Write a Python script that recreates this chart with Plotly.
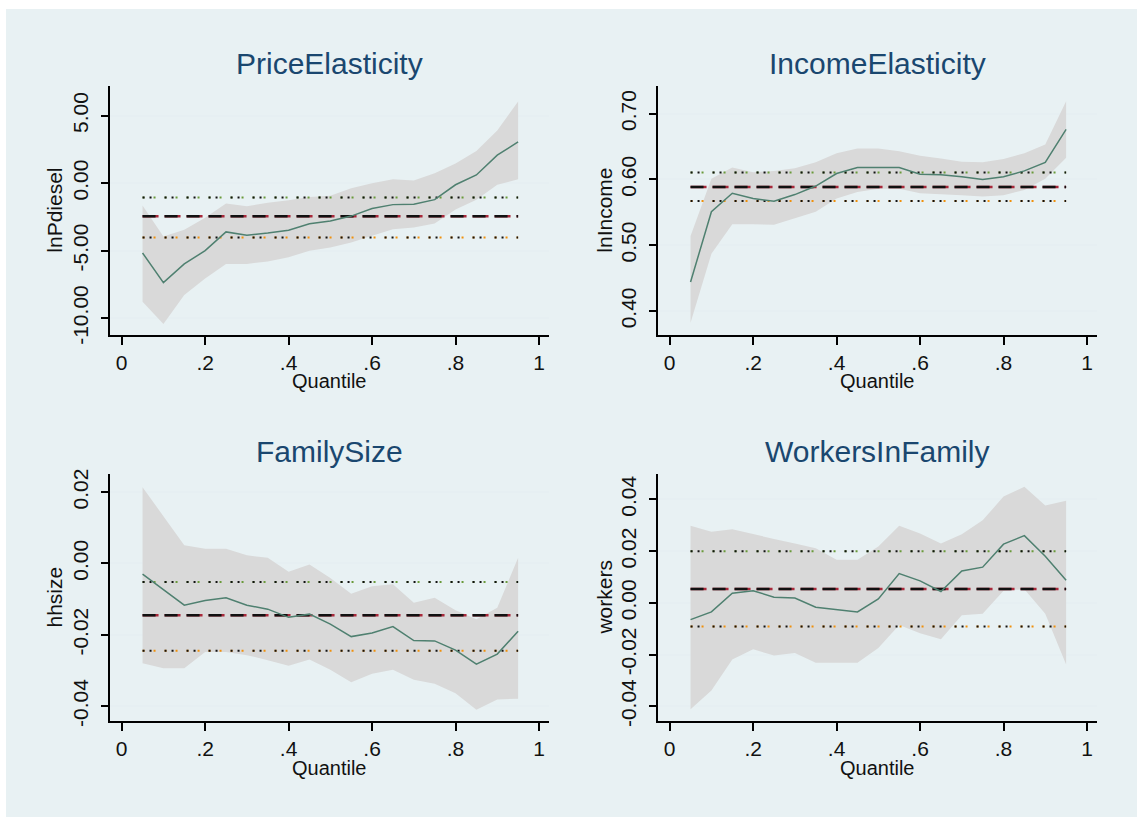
import plotly.graph_objects as go

# ---------------- data ----------------
quantiles = [0.05, 0.10, 0.15, 0.20, 0.25, 0.30, 0.35, 0.40, 0.45, 0.50,
             0.55, 0.60, 0.65, 0.70, 0.75, 0.80, 0.85, 0.90, 0.95]

titles = ["PriceElasticity", "IncomeElasticity", "FamilySize", "WorkersInFamily"]
ylabels = ["lnPdiesel", "lnIncome", "hhsize", "workers"]

price_coef = [-5.17, -7.37, -5.98, -5.00, -3.61, -3.85, -3.70, -3.49, -3.00, -2.80,
              -2.44, -1.88, -1.59, -1.56, -1.22, -0.12, 0.61, 2.07, 3.05]
price_hi = [-1.66, -3.95, -3.46, -2.56, -1.51, -1.71, -1.46, -1.27, -1.02, -0.93,
            -0.37, 0.00, 0.29, 0.20, 0.73, 1.46, 2.39, 3.90, 6.05]
price_lo = [-8.78, -10.44, -8.29, -7.07, -5.98, -5.98, -5.80, -5.49, -5.00, -4.76,
            -4.39, -3.90, -3.41, -3.29, -2.98, -1.95, -1.22, -0.12, 0.29]
price_ols = [-2.46, -1.07, -4.02]  # coef, upper, lower

income_coef = [0.444, 0.551, 0.579, 0.571, 0.567, 0.577, 0.590, 0.609, 0.618, 0.618,
               0.618, 0.608, 0.607, 0.604, 0.600, 0.604, 0.613, 0.626, 0.676]
income_hi = [0.514, 0.601, 0.618, 0.611, 0.613, 0.617, 0.626, 0.640, 0.647, 0.647,
             0.643, 0.636, 0.632, 0.627, 0.626, 0.631, 0.640, 0.653, 0.719]
income_lo = [0.382, 0.487, 0.532, 0.532, 0.531, 0.541, 0.551, 0.571, 0.581, 0.586,
             0.586, 0.579, 0.577, 0.576, 0.574, 0.576, 0.584, 0.601, 0.633]
income_ols = [0.5886, 0.6104, 0.5672]

hhsize_coef = [-0.0030, -0.0073, -0.0117, -0.0104, -0.0096, -0.0117, -0.0128, -0.0151, -0.0142, -0.0170,
               -0.0205, -0.0195, -0.0177, -0.0216, -0.0217, -0.0243, -0.0282, -0.0254, -0.0190]
hhsize_hi = [0.0214, 0.0133, 0.0051, 0.0041, 0.0041, 0.0023, 0.0016, -0.0023, -0.0003, -0.0041,
             -0.0085, -0.0064, -0.0058, -0.0110, -0.0096, -0.0131, -0.0156, -0.0124, 0.0016]
hhsize_lo = [-0.0280, -0.0294, -0.0294, -0.0248, -0.0248, -0.0257, -0.0271, -0.0287, -0.0269, -0.0298,
             -0.0333, -0.0309, -0.0298, -0.0326, -0.0337, -0.0364, -0.0410, -0.0381, -0.0379]
hhsize_ols = [-0.0145, -0.0052, -0.0245]

workers_coef = [-0.0065, -0.0035, 0.0037, 0.0047, 0.0022, 0.0019, -0.0017, -0.0027, -0.0035, 0.0015,
                0.0113, 0.0085, 0.0044, 0.0123, 0.0138, 0.0227, 0.0260, 0.0180, 0.0087]
workers_hi = [0.0298, 0.0275, 0.0285, 0.0265, 0.0247, 0.0230, 0.0211, 0.0167, 0.0167, 0.0218,
              0.0298, 0.0268, 0.0230, 0.0265, 0.0319, 0.0411, 0.0449, 0.0376, 0.0395]
workers_lo = [-0.0411, -0.0339, -0.0219, -0.0179, -0.0204, -0.0194, -0.0232, -0.0232, -0.0232, -0.0175,
              -0.0086, -0.0118, -0.0141, -0.0048, -0.0042, 0.0047, 0.0053, -0.0042, -0.0238]
workers_ols = [0.0054, 0.0200, -0.0091]

x_tickvals = [0, 0.2, 0.4, 0.6, 0.8, 1.0]
x_ticktext = ["0", ".2", ".4", ".6", ".8", "1"]

y_tickvals = [
    [-10, -5, 0, 5],
    [0.4, 0.5, 0.6, 0.7],
    [-0.04, -0.02, 0.0, 0.02],
    [-0.04, -0.02, 0.0, 0.02, 0.04],
]
y_ticktext = [
    ["-10.00", "-5.00", "0.00", "5.00"],
    ["0.40", "0.50", "0.60", "0.70"],
    ["-0.04", "-0.02", "0.00", "0.02"],
    ["-0.04", "-0.02", "0.00", "0.02", "0.04"],
]

y_ranges = [[-11.24, 7.16], [0.3637, 0.7413], [-0.0441, 0.0250], [-0.0456, 0.0497]]

coefs = [price_coef, income_coef, hhsize_coef, workers_coef]
his = [price_hi, income_hi, hhsize_hi, workers_hi]
los = [price_lo, income_lo, hhsize_lo, workers_lo]
ols = [price_ols, income_ols, hhsize_ols, workers_ols]

# ---------------- layout geometry ----------------
W, H = 1137, 827
x_dom = [[110 / W, 549 / W], [658 / W, 1097 / W]]
y_dom = [[1 - 336 / H, 1 - 83 / H], [1 - 729 / H, 1 - 478 / H]]

FONT = "Arial, Liberation Sans, sans-serif"
fill_col = "#d9d9d9"
line_col = "#4f8070"
grid_col = "#e6eff2"
TICK_SIZE = 21

fig = go.Figure()

for i in range(4):
    r, c = divmod(i, 2)
    xa = "x" if i == 0 else f"x{i+1}"
    ya = "y" if i == 0 else f"y{i+1}"
    # confidence band
    fig.add_trace(go.Scatter(
        x=quantiles + quantiles[::-1], y=his[i] + los[i][::-1],
        fill="toself", fillcolor=fill_col, line=dict(width=0),
        mode="lines", hoverinfo="skip", showlegend=False, xaxis=xa, yaxis=ya))
    # OLS confidence limits (dotted)
    xs = [quantiles[0], quantiles[-1]]
    fig.add_trace(go.Scatter(x=xs, y=[ols[i][1]] * 2, mode="lines",
                             line=dict(color="#6a9a3a", width=2, dash="2px,9px"),
                             showlegend=False, xaxis=xa, yaxis=ya))
    fig.add_trace(go.Scatter(x=xs, y=[ols[i][1]] * 2, mode="lines",
                             line=dict(color="#111111", width=2, dash="2px,5px,2px,13px"),
                             showlegend=False, xaxis=xa, yaxis=ya))
    fig.add_trace(go.Scatter(x=xs, y=[ols[i][2]] * 2, mode="lines",
                             line=dict(color="#f0900a", width=2, dash="2px,9px"),
                             showlegend=False, xaxis=xa, yaxis=ya))
    fig.add_trace(go.Scatter(x=xs, y=[ols[i][2]] * 2, mode="lines",
                             line=dict(color="#111111", width=2, dash="2px,5px,2px,13px"),
                             showlegend=False, xaxis=xa, yaxis=ya))
    # OLS coefficient (dashed)
    fig.add_trace(go.Scatter(x=xs, y=[ols[i][0]] * 2, mode="lines",
                             line=dict(color="#a8283a", width=2.5, dash="16px,6px"),
                             showlegend=False, xaxis=xa, yaxis=ya))
    fig.add_trace(go.Scatter(x=xs, y=[ols[i][0]] * 2, mode="lines",
                             line=dict(color="#111111", width=2.5, dash="13px,9px"),
                             showlegend=False, xaxis=xa, yaxis=ya))
    # quantile coefficient
    fig.add_trace(go.Scatter(x=quantiles, y=coefs[i], mode="lines",
                             line=dict(color=line_col, width=1.5),
                             showlegend=False, xaxis=xa, yaxis=ya))

    xkey = "xaxis" if i == 0 else f"xaxis{i+1}"
    ykey = "yaxis" if i == 0 else f"yaxis{i+1}"
    fig.layout[xkey] = dict(
        domain=x_dom[c], anchor=ya, range=[-0.028, 1.024],
        tickvals=x_tickvals, ticktext=x_ticktext,
        showline=True, linecolor="black", linewidth=2,
        ticks="outside", ticklen=8, tickwidth=2, tickcolor="black",
        showgrid=False, zeroline=False,
        tickfont=dict(family=FONT, size=TICK_SIZE, color="#111111"))
    fig.layout[ykey] = dict(
        domain=y_dom[r], anchor=xa, range=y_ranges[i],
        tickvals=y_tickvals[i], ticktext=y_ticktext[i], tickangle=-90,
        showline=True, linecolor="black", linewidth=2,
        ticks="outside", ticklen=7, tickwidth=2, tickcolor="black",
        ticklabelstandoff=5,
        showgrid=True, gridcolor=grid_col, gridwidth=2, zeroline=False,
        tickfont=dict(family=FONT, size=TICK_SIZE, color="#111111"))

annotations = []
title_y = [60, 455]
quant_y = [383, 777]
for i in range(4):
    r, c = divmod(i, 2)
    cx = (x_dom[c][0] + x_dom[c][1]) / 2
    cy = (y_dom[r][0] + y_dom[r][1]) / 2
    annotations.append(dict(text=titles[i], x=cx, y=1 - title_y[r] / H, xref="paper", yref="paper",
                            showarrow=False, xanchor="center", yanchor="middle",
                            font=dict(family=FONT, size=30, color="#1a476f")))
    annotations.append(dict(text="Quantile", x=cx, y=1 - quant_y[r] / H, xref="paper", yref="paper",
                            showarrow=False, xanchor="center", yanchor="middle",
                            font=dict(family=FONT, size=20, color="#111111")))
    ylab_x = [55, 605][c]
    annotations.append(dict(text=ylabels[i], x=ylab_x / W, y=cy, xref="paper", yref="paper",
                            showarrow=False, xanchor="center", yanchor="middle", textangle=-90,
                            font=dict(family=FONT, size=21, color="#111111")))

fig.update_layout(
    width=W, height=H, margin=dict(l=0, r=0, t=0, b=0),
    paper_bgcolor="white", plot_bgcolor="white",
    annotations=annotations,
    shapes=[dict(type="rect", xref="paper", yref="paper", x0=6 / W, x1=1, y0=0, y1=1 - 4 / H,
                 fillcolor="#e8f1f3", line=dict(width=0), layer="below")],
)

fig.write_html("out.html")
